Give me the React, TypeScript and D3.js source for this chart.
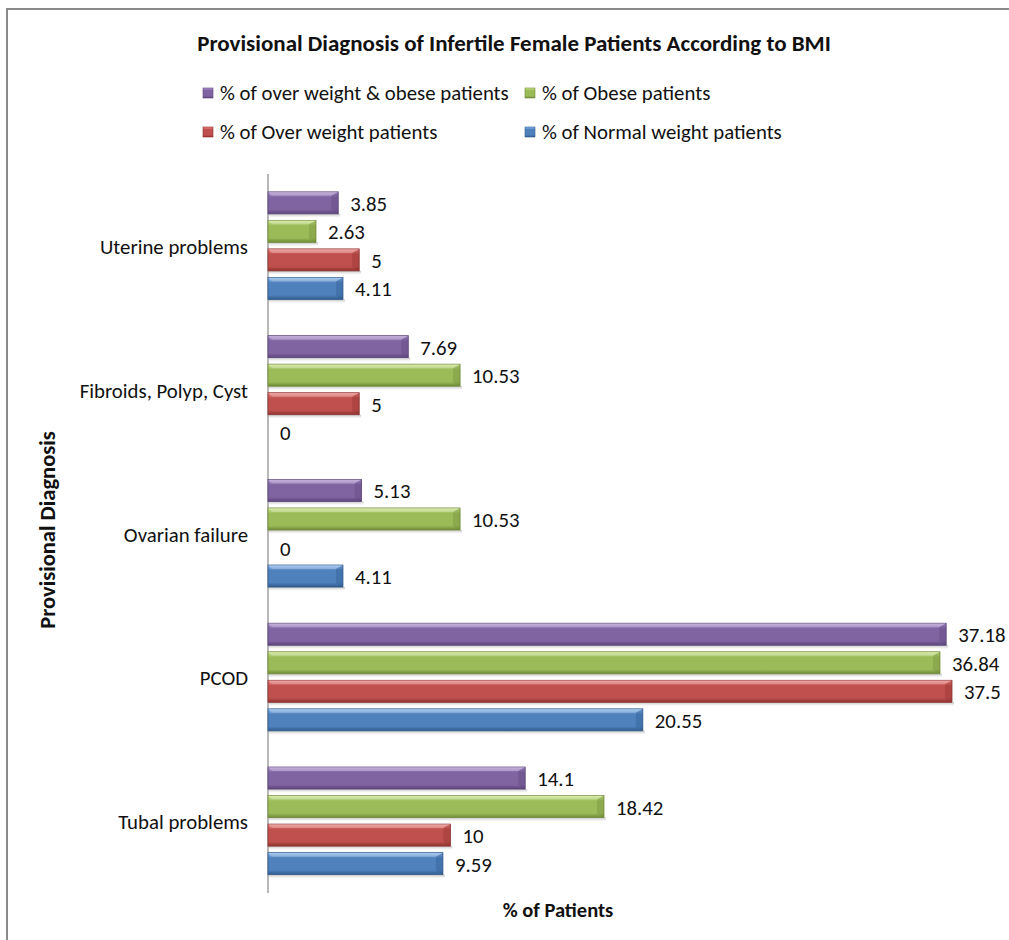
import React from "react";
import * as d3 from "d3";

const categories = ["Uterine problems", "Fibroids, Polyp, Cyst", "Ovarian failure", "PCOD", "Tubal problems"];
const seriesKeys = ["overObese", "obese", "overWeight", "normal"];
const seriesNames = [
  "% of over weight & obese patients",
  "% of Obese patients",
  "% of Over weight patients",
  "% of Normal weight patients",
];
const overObeseValues = [3.85, 7.69, 5.13, 37.18, 14.1];
const obeseValues = [2.63, 10.53, 10.53, 36.84, 18.42];
const overWeightValues = [5, 5, 0, 37.5, 10];
const normalValues = [4.11, 0, 4.11, 20.55, 9.59];
const seriesValues = [overObeseValues, obeseValues, overWeightValues, normalValues];

const title = "Provisional Diagnosis of Infertile Female Patients According to BMI";
const xTitle = "% of Patients";
const yTitle = "Provisional Diagnosis";

const colors = [
  { light: "#b49ad6", mid: "#8064a2", dark: "#5b4478" },
  { light: "#cfe88f", mid: "#9bbb59", dark: "#6f8a37" },
  { light: "#f08a86", mid: "#c0504d", dark: "#8c3230" },
  { light: "#8fbcf0", mid: "#4f81bd", dark: "#2f5a8c" },
];

const FONT = "Carlito, Calibri, Lato, 'Open Sans', sans-serif";
const FS = 20.8;

export default function App() {
  const W = 1009;
  const H = 940;
  const x = d3.scaleLinear().domain([0, 40]).range([268, 268 + 40 * 18.24]);
  const y = d3.scaleBand<string>().domain(categories).range([174, 893]).paddingInner(0).paddingOuter(0);
  const inner = d3.scaleBand<string>().domain(seriesKeys).range([0, y.bandwidth()]).paddingInner(0).paddingOuter(0.52);
  const barH = 22;
  const legendPos = [
    { x: 203, y: 93 },
    { x: 525, y: 93 },
    { x: 203, y: 132 },
    { x: 525, y: 132 },
  ];

  return (
    <svg width={W} height={H} style={{ position: "absolute", left: 0, top: 0, background: "#fff" }} fontFamily={FONT}>
      <defs>
        {colors.map((c, i) => (
          <linearGradient key={i} id={`g${i}`} x1="0" y1="0" x2="0" y2="1">
            <stop offset="0" stopColor={c.light} />
            <stop offset="0.25" stopColor={c.mid} />
            <stop offset="0.8" stopColor={c.mid} />
            <stop offset="1" stopColor={c.dark} />
          </linearGradient>
        ))}
        <linearGradient id="shadow" x1="0" y1="0" x2="0" y2="1">
          <stop offset="0" stopColor="#999" stopOpacity="0.6" />
          <stop offset="1" stopColor="#ccc" stopOpacity="0" />
        </linearGradient>
      </defs>
      <rect x={7} y={9} width={W + 20} height={H + 20} fill="#fff" stroke="#8a8a8a" strokeWidth={2} />
      <text x={514} y={43} textAnchor="middle" dominantBaseline="central" fontSize={23} fontWeight="bold" fill="#111">
        {title}
      </text>
      {seriesNames.map((name, i) => (
        <g key={name} transform={`translate(${legendPos[i].x},${legendPos[i].y})`}>
          <rect x={0} y={-5} width={10} height={10} fill={`url(#g${i})`} stroke={colors[i].dark} strokeWidth={0.6} />
          <text x={17} y={0} dominantBaseline="central" fontSize={FS} fill="#111">
            {name}
          </text>
        </g>
      ))}
      <line x1={268} x2={268} y1={174} y2={893} stroke="#a0a0a0" strokeWidth={1.5} />
      {categories.map((cat, ci) => (
        <g key={cat}>
          <text x={248} y={y(cat)! + y.bandwidth() / 2 + 1} textAnchor="end" dominantBaseline="central" fontSize={FS} fill="#111">
            {cat}
          </text>
          {seriesKeys.map((k, si) => {
            const v = seriesValues[si][ci];
            const top = y(cat)! + inner(k)! + 3;
            const x0 = x(0);
            const x1 = x(v);
            const w = x1 - x0;
            return (
              <g key={k}>
                {w > 0 && (
                  <>
                    <rect x={x0} y={top + barH} width={w + 2} height={4} fill="url(#shadow)" />
                    <rect x={x0} y={top} width={w} height={barH} fill={`url(#g${si})`} stroke={colors[si].dark} strokeWidth={0.8} />
                    <polygon
                      points={`${x1 - 7},${top + 4} ${x1},${top} ${x1},${top + barH} ${x1 - 7},${top + barH - 4}`}
                      fill={colors[si].dark}
                      opacity={0.35}
                    />
                    <polygon
                      points={`${x0},${top} ${x1},${top} ${x1 - 7},${top + 4} ${x0 + 4},${top + 4}`}
                      fill="#fff"
                      opacity={0.25}
                    />
                  </>
                )}
                <text x={x1 + 12} y={top + barH / 2 + 1} dominantBaseline="central" fontSize={FS} fill="#111">
                  {String(v)}
                </text>
              </g>
            );
          })}
        </g>
      ))}
      <text x={558} y={910} textAnchor="middle" dominantBaseline="central" fontSize={20.5} fontWeight="bold" fill="#111">
        {xTitle}
      </text>
      <text
        transform={`translate(47,530) rotate(-90)`}
        textAnchor="middle"
        dominantBaseline="central"
        fontSize={22.5}
        fontWeight="bold"
        fill="#111"
      >
        {yTitle}
      </text>
    </svg>
  );
}
